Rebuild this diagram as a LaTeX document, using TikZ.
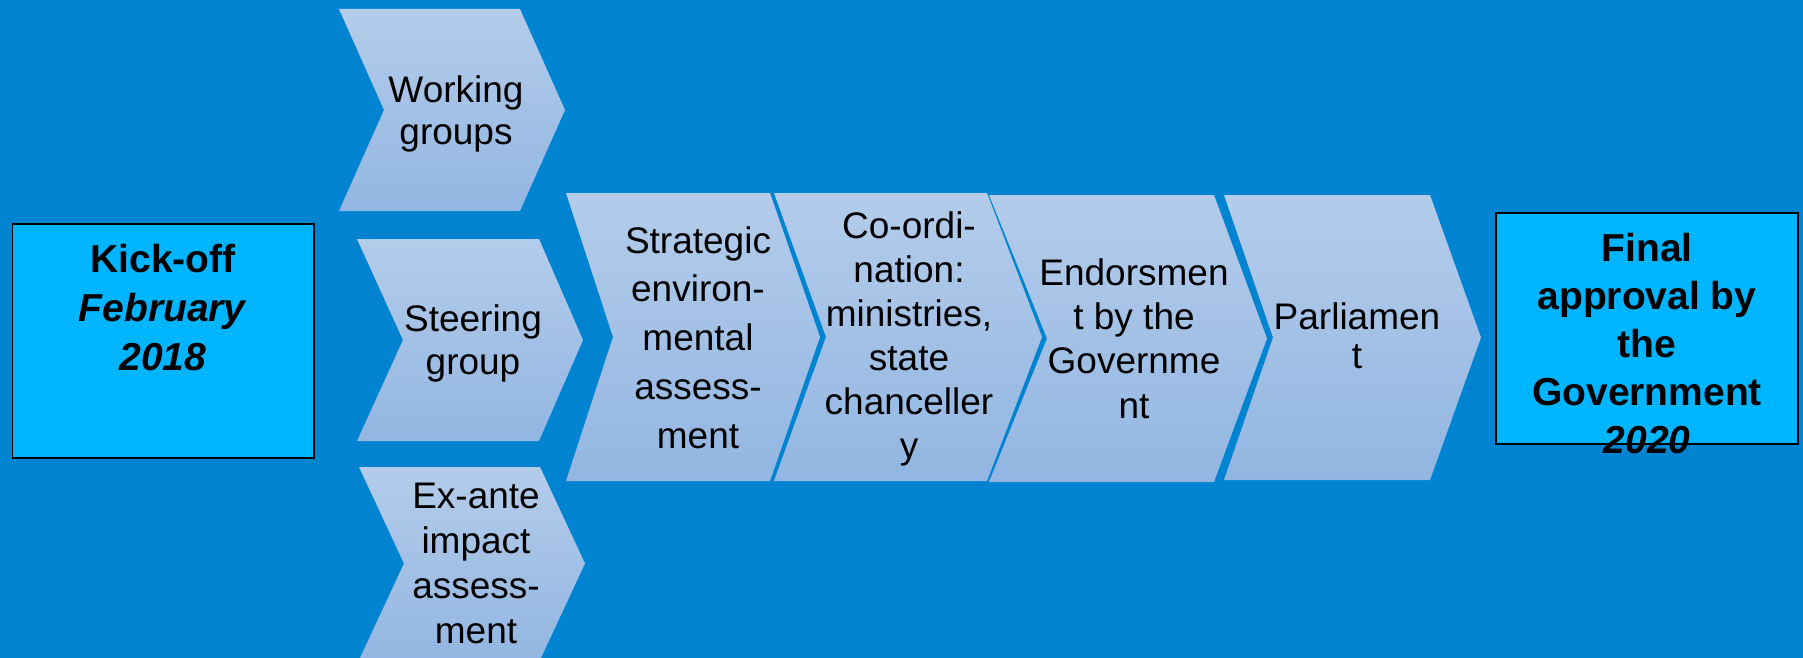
\documentclass[tikz,border=0pt]{standalone}
\usepackage{fontspec}
\setmainfont{Liberation Sans}
\definecolor{bg}{HTML}{0083D1}
\definecolor{chtop}{HTML}{B4CCEA}
\definecolor{chbot}{HTML}{92B6E2}
\definecolor{boxc}{HTML}{00B5FF}
\newcommand\mychev[6]{% left, top-right, tip, top, bottom, notch
  \path[chev] (#1,#4) -- (#2,#4) -- (#3,{(#4+#5)/2}) -- (#2,#5) -- (#1,#5) -- (#6,{(#4+#5)/2}) -- cycle;}
\newcommand\myst{\rule{0pt}{29.6pt}}
\newcommand\mybst{\rule{0pt}{31.2pt}}
\tikzset{
  chev/.style={top color=chtop, bottom color=chbot, draw=none},
  txt/.style={anchor=north, inner sep=0pt, align=center, text=black,
    font=\fontsize{37}{#1}\selectfont},
  btxt/.style={anchor=north, inner sep=0pt, align=center, text=black,
    font=\fontsize{39}{#1}\selectfont\bfseries},
  boxst/.style={draw=black, fill=boxc, line width=1.5pt, inner sep=0pt, anchor=north west},
}
\begin{document}
\begin{tikzpicture}[x=1pt,y=-1pt]
\fill[bg] (0,0) rectangle (1803,658);
\useasboundingbox (0,0) rectangle (1803,658);

% small chevrons
\mychev{339}{520}{565}{9}{211}{384}
\mychev{357}{539}{583}{239}{441}{403}
\mychev{359}{540}{585}{467}{660}{404}
% big chevrons
\mychev{566}{770}{820}{193}{481}{613}
\mychev{774}{987}{1042}{193}{481}{826}
\mychev{989}{1214}{1267}{195}{482}{1047}
\mychev{1224}{1430}{1481}{195}{480}{1273}

% boxes
\node[boxst, minimum width=301.5pt, minimum height=234pt] (kickbox) at (11.5,223) {};
\node[boxst, minimum width=302pt, minimum height=231pt] (finalbox) at (1495,212) {};

% texts
\node[txt=42.5] (wg) at (456,72.4) {\myst Working\\groups};
\node[txt=43.5] (sg) at (473,301.4) {\myst Steering\\group};
\node[txt=45] (ea) at (476,478.4) {\myst Ex-ante\\impact\\assess-\\ment};
\node[txt=48.7] (sea) at (698,223.4) {\myst Strategic\\environ-\\mental\\assess-\\ment};
\node[txt=44] (coord) at (909,208.4) {\myst Co-ordi-\\nation:\\ministries,\\state\\chanceller\\y};
\node[txt=44.3] (endo) at (1134,255.4) {\myst Endorsmen\\t by the\\Governme\\nt};
\node[txt=39] (parl) at (1357,299.4) {\myst Parliamen\\t};
\node[btxt=49] (kick) at (163,240.8) {\mybst Kick-off\\\textit{February}\\\textit{2018}};
\node[btxt=48] (final) at (1647,229.8) {\mybst Final\\approval by\\the\\Government\\\textit{2020}};
\end{tikzpicture}
\end{document}
